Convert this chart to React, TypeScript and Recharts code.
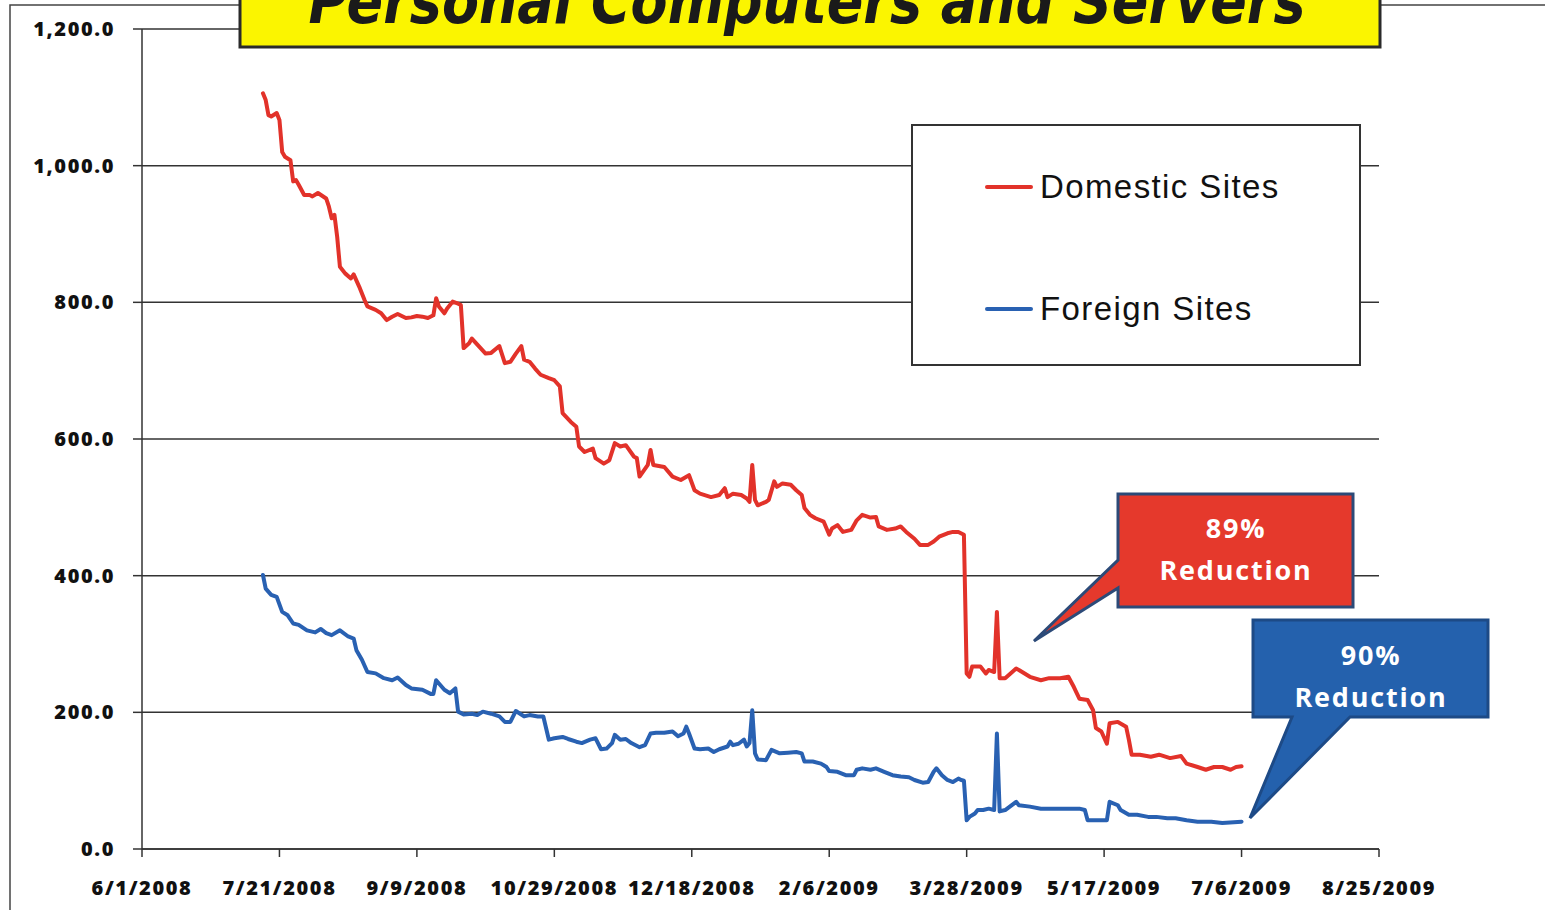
import { CartesianGrid, Legend, Line, LineChart, XAxis, YAxis } from "recharts";

// days since 6/1/2008 on the x axis
const xTickDays = [0, 50, 100, 150, 200, 250, 300, 350, 400, 450];
const xTickLabels = [
  "6/1/2008",
  "7/21/2008",
  "9/9/2008",
  "10/29/2008",
  "12/18/2008",
  "2/6/2009",
  "3/28/2009",
  "5/17/2009",
  "7/6/2009",
  "8/25/2009",
];
const yTicks = [0, 200, 400, 600, 800, 1000, 1200];

const seriesNames = ["Domestic Sites", "Foreign Sites"];
const seriesColors = ["#e2322a", "#2961b2"];

const domesticDays = [
  44, 45, 46, 47, 49, 50, 51, 52, 54, 55, 56, 57, 59, 61, 62, 64, 67, 68, 69, 70, 71, 72, 74, 76, 77, 79,
  81, 82, 85, 87, 89, 91, 93, 96, 98, 100, 102, 104, 106, 107, 108, 110, 111, 113, 115, 116, 117, 119,
  120, 122, 125, 127, 130, 132, 134, 136, 138, 139, 141, 143, 145, 148, 150, 152, 153, 156, 158, 159,
  161, 164, 165, 168, 170, 172, 174, 176, 179, 180, 181, 184, 185, 186, 190, 193, 196, 199, 201, 203,
  207, 210, 212, 213, 215, 218, 220, 221, 222, 223, 224, 227, 228, 230, 231, 233, 236, 238, 240, 241,
  243, 245, 248, 250, 251, 253, 255, 258, 260, 262, 265, 267, 268, 271, 274, 276, 278, 281, 283, 286,
  288, 290, 293, 295, 297, 299, 300, 301, 302, 305, 307, 308, 310, 311, 312, 314, 318, 319, 323, 327,
  330, 334, 337, 339, 341, 344, 346, 347, 349, 351, 352, 355, 358, 359, 360, 363, 367, 370, 374, 378,
  380, 384, 387, 390, 393, 396, 398, 400,
];
const domesticValues = [
  1106, 1096, 1074, 1072, 1077, 1067, 1020, 1013, 1008, 977, 979, 972, 957, 957, 955, 960, 952, 940, 923,
  928, 896, 852, 842, 835, 841, 823, 803, 794, 789, 784, 774, 779, 783, 777, 778, 780, 779, 777, 781,
  806, 794, 784, 791, 801, 798, 796, 733, 740, 747, 738, 725, 726, 736, 711, 713, 725, 736, 716, 713,
  703, 694, 689, 686, 677, 638, 625, 618, 589, 581, 586, 572, 564, 569, 594, 589, 591, 574, 572, 545,
  562, 584, 562, 559, 545, 540, 547, 525, 520, 515, 518, 528, 515, 520, 518, 513, 508, 562, 511, 503,
  508, 511, 538, 530, 535, 533, 525, 518, 499, 489, 484, 479, 460, 469, 474, 464, 467, 481, 489, 485,
  486, 472, 467, 469, 472, 464, 454, 445, 445, 450, 457, 462, 464, 464, 460, 257, 252, 267, 267, 257,
  262, 259, 347, 250, 250, 264, 262, 252, 247, 250, 250, 252, 237, 220, 218, 203, 177, 172, 154, 184,
  186, 179, 160, 138, 138, 135, 138, 133, 136, 125, 120, 116, 120, 120, 116, 120, 121,
];

const foreignDays = [
  44, 45, 47, 49, 51, 53, 55, 57, 60, 63, 65, 67, 69, 72, 75, 77, 78, 80, 82, 85, 88, 91, 93, 96, 98,
  102, 105, 106, 107, 110, 112, 114, 115, 117, 120, 122, 124, 127, 130, 132, 134, 136, 139, 141, 144,
  146, 148, 150, 153, 155, 158, 160, 163, 165, 167, 169, 171, 172, 174, 176, 178, 181, 183, 185, 187,
  190, 193, 195, 197, 198, 199, 201, 203, 206, 208, 210, 213, 214, 215, 217, 219, 220, 221, 222, 223,
  224, 227, 229, 232, 235, 238, 240, 241, 244, 247, 249, 250, 253, 256, 259, 260, 262, 265, 267, 270,
  273, 276, 279, 281, 284, 286, 288, 289, 291, 293, 295, 297, 298, 299, 300, 301, 303, 304, 306, 308,
  310, 311, 312, 314, 318, 319, 323, 327, 330, 334, 338, 341, 343, 344, 347, 351, 352, 355, 356, 359,
  362, 366, 369, 373, 376, 380, 384, 389, 393, 400,
];
const foreignValues = [
  401, 381, 372, 369, 347, 342, 330, 328, 320, 317, 322, 316, 313, 320, 311, 308, 291, 277, 259, 257,
  250, 247, 251, 240, 235, 233, 227, 227, 247, 233, 228, 235, 201, 197, 198, 196, 201, 198, 194, 186,
  186, 202, 194, 196, 194, 194, 160, 162, 164, 161, 157, 155, 160, 162, 146, 147, 155, 167, 160, 161,
  155, 149, 152, 169, 170, 170, 172, 165, 169, 179, 169, 147, 146, 147, 142, 146, 150, 157, 152, 154,
  160, 150, 155, 203, 140, 131, 130, 145, 140, 141, 142, 140, 128, 128, 125, 120, 114, 113, 108, 108,
  116, 118, 116, 118, 113, 108, 106, 105, 101, 97, 98, 113, 118, 108, 101, 98, 103, 101, 100, 42, 47,
  52, 57, 57, 59, 57, 169, 55, 57, 69, 64, 62, 59, 59, 59, 59, 59, 57, 42, 42, 42, 69, 64, 57, 50, 50,
  47, 47, 45, 45, 42, 40, 40, 38, 40,
];

const domesticData = domesticDays.map((day, i) => ({ day, v: domesticValues[i] }));
const foreignData = foreignDays.map((day, i) => ({ day, v: foreignValues[i] }));

const axisFont = {
  fill: "#111",
  fontSize: 20,
  fontWeight: 800,
  fontFamily: "Open Sans",
  letterSpacing: 1.6,
};

function LegendBox(props: any) {
  const items = props.payload || [];
  return (
    <div
      style={{
        boxSizing: "border-box",
        width: 450,
        height: 242,
        border: "2px solid #333",
        background: "#fff",
        position: "relative",
      }}
    >
      {items.map((entry: any, i: number) => (
        <div
          key={entry.value}
          style={{
            position: "absolute",
            left: 72,
            top: (i === 0 ? 61 : 183) - 22,
            height: 44,
            display: "flex",
            alignItems: "center",
            whiteSpace: "nowrap",
          }}
        >
          <span
            style={{
              display: "inline-block",
              width: 48,
              height: 4,
              borderRadius: 2,
              background: entry.color,
              marginRight: 7,
            }}
          />
          <span
            style={{
              fontFamily: "Liberation Sans",
              fontSize: 33,
              letterSpacing: 1.4,
              color: "#111",
            }}
          >
            {entry.value}
          </span>
        </div>
      ))}
    </div>
  );
}

export default function App() {
  return (
    <div
      style={{
        position: "fixed",
        left: 0,
        top: 0,
        width: 1545,
        height: 910,
        background: "#fff",
        overflow: "hidden",
      }}
    >
      <LineChart
        width={1545}
        height={910}
        margin={{ top: 29, right: 166, bottom: 31, left: 72 }}
      >
        <CartesianGrid vertical={false} stroke="#333" strokeWidth={1.5} />
        <XAxis
          type="number"
          dataKey="day"
          domain={[0, 450]}
          ticks={xTickDays}
          interval={0}
          height={30}
          tickSize={8}
          tickMargin={24}
          tickFormatter={(d: number) => xTickLabels[xTickDays.indexOf(d)]}
          axisLine={{ stroke: "#333", strokeWidth: 1.5 }}
          tickLine={{ stroke: "#333", strokeWidth: 1.5 }}
          tick={axisFont}
        />
        <YAxis
          type="number"
          width={70}
          domain={[0, 1200]}
          ticks={yTicks}
          interval={0}
          tickSize={9}
          tickMargin={18}
          tickFormatter={(v: number) =>
            v.toLocaleString("en-US", { minimumFractionDigits: 1, maximumFractionDigits: 1 })
          }
          axisLine={{ stroke: "#333", strokeWidth: 1.5 }}
          tickLine={{ stroke: "#333", strokeWidth: 1.5 }}
          tick={axisFont}
        />
        <Line
          data={domesticData}
          dataKey="v"
          name={seriesNames[0]}
          type="linear"
          stroke={seriesColors[0]}
          strokeWidth={4}
          strokeLinejoin="round"
          strokeLinecap="round"
          dot={false}
          activeDot={false}
          isAnimationActive={false}
        />
        <Line
          data={foreignData}
          dataKey="v"
          name={seriesNames[1]}
          type="linear"
          stroke={seriesColors[1]}
          strokeWidth={4}
          strokeLinejoin="round"
          strokeLinecap="round"
          dot={false}
          activeDot={false}
          isAnimationActive={false}
        />
        <Legend
          layout="vertical"
          align="center"
          verticalAlign="middle"
          width={450}
          height={242}
          wrapperStyle={{ left: 911, top: 124, width: 450, height: 242 }}
          content={LegendBox}
        />
      </LineChart>

      {/* slide frame, title banner and the two callouts */}
      <svg
        width={1545}
        height={910}
        style={{ position: "absolute", left: 0, top: 0, pointerEvents: "none" }}
      >
        <path d="M10,910 V5 H1545" fill="none" stroke="#444" strokeWidth={1.5} />
        <rect x={240} y={-12} width={1140} height={59} fill="#fbf500" stroke="#2a2a2a" strokeWidth={3} />
        <text
          x={807}
          y={23}
          textAnchor="middle"
          textLength={997}
          lengthAdjust="spacingAndGlyphs"
          fill="#1a1a1a"
          fontFamily="DejaVu Sans"
          fontWeight={700}
          fontStyle="italic"
          fontSize={62}
        >
          Personal Computers and Servers
        </text>

        <path
          d="M1118,494 H1353 V607 H1118 V588 L1034,641 L1118,560 Z"
          fill="#e5392c"
          stroke="#2c4a78"
          strokeWidth={3}
          strokeLinejoin="miter"
        />
        <g fill="#fff" fontFamily="Open Sans" fontWeight={700} fontSize={27} letterSpacing={1.8} textAnchor="middle">
          <text x={1236} y={538}>89%</text>
          <text x={1236} y={580}>Reduction</text>
        </g>

        <path
          d="M1253,620 H1488 V717 H1350 L1250,818 L1292,717 H1253 Z"
          fill="#2461ad"
          stroke="#1d4a86"
          strokeWidth={3}
          strokeLinejoin="miter"
        />
        <g fill="#fff" fontFamily="Open Sans" fontWeight={700} fontSize={27} letterSpacing={1.8} textAnchor="middle">
          <text x={1371} y={665}>90%</text>
          <text x={1371} y={707}>Reduction</text>
        </g>
      </svg>
    </div>
  );
}
